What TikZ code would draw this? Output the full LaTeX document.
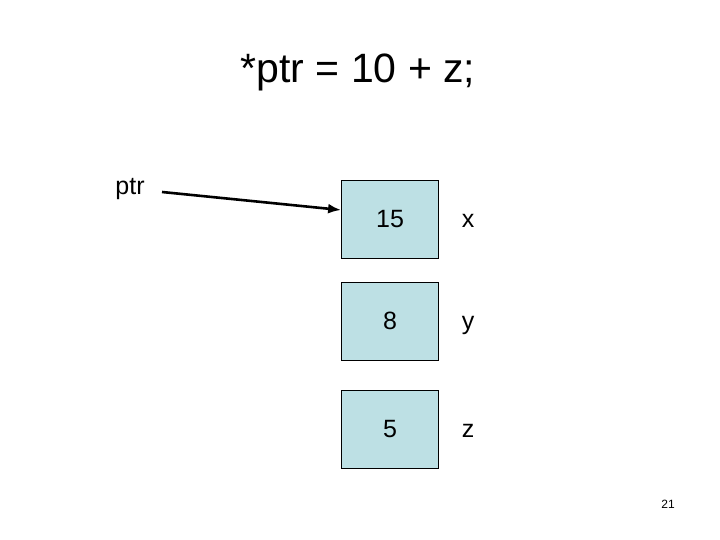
\documentclass[tikz,border=0pt]{standalone}
\usepackage{fontspec}
\setmainfont{Liberation Sans}
\usepackage{tikz}
\usetikzlibrary{shapes,arrows,arrows.meta,calc}
\usepackage{xcolor}
\definecolor{cellblue}{RGB}{189,224,228}
\tikzstyle{cell} = [rectangle, draw, fill=cellblue, line width=0.8pt, sharp corners, %
minimum width=97pt, minimum height=78pt, font=\fontsize{25}{30}\selectfont]
\tikzstyle{varname} = [font=\fontsize{25}{30}\selectfont, anchor=base]
\tikzstyle{pointer} = [draw, line width=2.6pt, -{Latex[length=13pt,width=10pt]}]

\begin{document}
\begin{tikzpicture}[x=1pt, y=1pt]
    \useasboundingbox (0,0) rectangle (720,540);
    \node[anchor=base, font=\fontsize{41}{48}\selectfont] (stmt) at (358,457) {*ptr = 10 + z;};
    \node[varname] (ptr) at (130,345) {ptr};
    \coordinate (tail) at (162,348);
    \node[cell] (box15) at (390,321) {15};
    \node[cell, below of=box15, node distance=102pt] (box8) {8};
    \node[cell, below of=box8, node distance=108pt] (box5) {5};
    \node[varname] (x) at ($(box15.center)+(78,-9)$) {x};
    \node[varname] (y) at ($(box8.center)+(78,-9)$) {y};
    \node[varname] (z) at ($(box5.center)+(78,-9)$) {z};
    \node[font=\fontsize{12}{14}\selectfont] (page) at (668,36) {21};
    % draw arrow
    \path[pointer] (tail) -- ($(box15.west)+(0,9)$);
\end{tikzpicture}
\end{document}
